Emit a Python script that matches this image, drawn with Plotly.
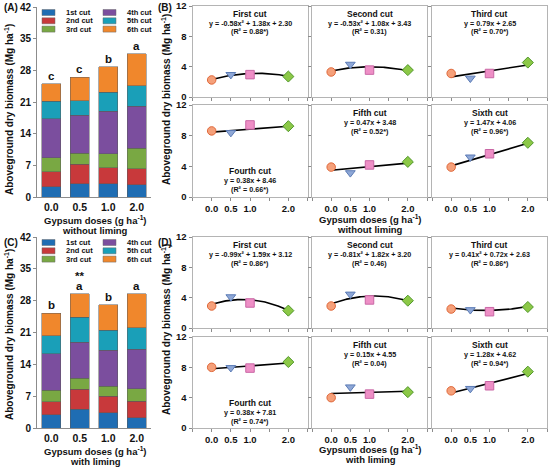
import numpy as np
import plotly.graph_objects as go

W, H = 550, 469
FONT = "Liberation Sans, Arial, sans-serif"

# ---------------- data ----------------
doses = [0.0, 0.5, 1.0, 2.0]
dose_labels = ["0.0", "0.5", "1.0", "2.0"]
cut_names = ["1st cut", "2nd cut", "3rd cut", "4th cut", "5th cut", "6th cut"]
cut_titles = ["First cut", "Second cut", "Third cut", "Fourth cut", "Fifth cut", "Sixth cut"]
cut_colors = ["#1f6db3", "#c8393b", "#79a843", "#7b4e9e", "#1a9fb8", "#f0872c"]

# without liming (Mg ha-1), per cut, at doses 0.0 0.5 1.0 2.0
nl_cut1 = [2.25, 2.95, 2.95, 2.70]
nl_cut2 = [3.30, 4.30, 3.55, 3.55]
nl_cut3 = [3.10, 2.47, 3.10, 4.54]
nl_cut4 = [8.62, 8.40, 9.40, 9.24]
nl_cut5 = [3.90, 3.15, 4.18, 4.58]
nl_cut6 = [3.90, 5.20, 5.64, 7.07]

# with liming
l_cut1 = [2.90, 4.10, 3.30, 2.29]
l_cut2 = [2.90, 4.45, 3.70, 3.60]
l_cut3 = [2.50, 2.40, 2.15, 2.77]
l_cut4 = [8.00, 7.95, 7.90, 8.70]
l_cut5 = [4.00, 5.40, 4.47, 4.73]
l_cut6 = [4.90, 5.20, 5.57, 7.43]

nl_letters = ["c", "c", "b", "a"]
l_letters = ["b", "a", "b", "a"]
l_stars = ["", "**", "", ""]

nl_eqs = ["y = -0.58x² + 1.38x + 2.30", "y = -0.53x² + 1.08x + 3.43", "y = 0.79x + 2.65",
          "y = 0.38x + 8.46", "y = 0.47x + 3.48", "y = 1.47x + 4.06"]
nl_r2 = ["(R² = 0.88*)", "(R² = 0.31)", "(R² = 0.70*)", "(R² = 0.66*)", "(R² = 0.52*)", "(R² = 0.96*)"]
l_eqs = ["y = -0.99x² + 1.59x + 3.12", "y = -0.81x² + 1.82x + 3.20", "y = 0.41x² + 0.72x + 2.63",
         "y = 0.38x + 7.81", "y = 0.15x + 4.55", "y = 1.28x + 4.62"]
l_r2 = ["(R² = 0.86*)", "(R² = 0.46)", "(R² = 0.86*)", "(R² = 0.74*)", "(R² = 0.04)", "(R² = 0.94*)"]
# fitted coefficients [a, b, c] for y = a x^2 + b x + c
nl_coef = [[-0.58, 1.38, 2.30], [-0.53, 1.08, 3.43], [0.0, 0.79, 2.65],
           [0.0, 0.38, 8.46], [0.0, 0.47, 3.48], [0.0, 1.47, 4.06]]
l_coef = [[-0.99, 1.59, 3.12], [-0.81, 1.82, 3.20], [0.41, -0.72, 2.63],
          [0.0, 0.38, 7.81], [0.0, 0.15, 4.55], [0.0, 1.28, 4.62]]

marker_symbols = ["circle", "triangle-down", "square", "diamond"]
marker_fill = ["#f5a07a", "#8ea7d6", "#ee8fc6", "#8cc847"]
marker_edge = ["#e0683a", "#5b7bb5", "#c967a5", "#52982c"]

nl_cuts = [nl_cut1, nl_cut2, nl_cut3, nl_cut4, nl_cut5, nl_cut6]
l_cuts = [l_cut1, l_cut2, l_cut3, l_cut4, l_cut5, l_cut6]


def pxx(x):
    return x / W


def pxy(y):
    return 1 - y / H


fig = go.Figure()
layout = {}
annotations = []
shapes = []

# ---------------- bar panels (A, C) ----------------
bar_x = [37, 151]
bar_panels = [
    dict(n=1, y=[7, 197], cuts=nl_cuts, letters=nl_letters, stars=None),
    dict(n=2, y=[237, 428], cuts=l_cuts, letters=l_letters, stars=l_stars),
]
for p in bar_panels:
    n = p["n"]
    xa = "x" if n == 1 else f"x{n}"
    ya = "y" if n == 1 else f"y{n}"
    for i, vals in enumerate(p["cuts"]):
        fig.add_trace(go.Bar(x=dose_labels, y=vals, name=cut_names[i], xaxis=xa, yaxis=ya,
                             marker=dict(color=cut_colors[i], line=dict(color="#5a5a5a", width=0.5)),
                             showlegend=False))
    totals = np.sum(np.array(p["cuts"]), axis=0)
    for j in range(len(dose_labels)):
        annotations.append(dict(x=j, y=float(totals[j]), xref=xa, yref=ya, text=p["letters"][j],
                                showarrow=False, yanchor="bottom", yshift=0,
                                font=dict(size=11.5, family=FONT, color="#111", weight="bold")))
        if p["stars"] and p["stars"][j]:
            annotations.append(dict(x=j, y=float(totals[j]), xref=xa, yref=ya, text=p["stars"][j],
                                    showarrow=False, yanchor="bottom", yshift=10,
                                    font=dict(size=11.5, family=FONT, color="#111", weight="bold")))
    kx = "xaxis" if n == 1 else f"xaxis{n}"
    ky = "yaxis" if n == 1 else f"yaxis{n}"
    layout[kx] = dict(domain=[pxx(bar_x[0]), pxx(bar_x[1])], anchor=ya, type="category",
                      range=[-0.5, len(dose_labels) - 0.5], automargin=False,
                      showline=True, linecolor="#8c8c8c", linewidth=1, ticks="",
                      tickfont=dict(size=10.5, family=FONT, color="#111", weight="bold"),
                      showgrid=False, zeroline=False)
    layout[ky] = dict(domain=[pxy(p["y"][1]), pxy(p["y"][0])], anchor=xa, range=[0, 42],
                      automargin=False,
                      tickvals=[0, 7, 14, 21, 28, 35, 42], showline=True, linecolor="#8c8c8c",
                      linewidth=1, ticks="outside", ticklen=3, tickcolor="#8c8c8c",
                      tickfont=dict(size=10, family=FONT, color="#111", weight="bold"),
                      showgrid=False, zeroline=False)
    # legend (two columns x three rows)
    top = p["y"][0]
    for i, nm in enumerate(cut_names):
        col, row = divmod(i, 3)
        sx = 42 + col * 61
        sy = top + 5.5 + row * 8.3
        shapes.append(dict(type="rect", xref="paper", yref="paper",
                           x0=pxx(sx), x1=pxx(sx + 13), y0=pxy(sy - 3), y1=pxy(sy + 3),
                           fillcolor=cut_colors[i], line=dict(color="#6a6a6a", width=0.5)))
        annotations.append(dict(x=pxx(sx + 22), y=pxy(sy), xref="paper", yref="paper", text=nm,
                                showarrow=False, xanchor="left", yanchor="middle",
                                font=dict(size=7.5, family=FONT, color="#111", weight="bold")))

# ---------------- regression panels (B, D) ----------------
cols = [[192.5, 307.5], [312, 427], [432, 547]]
groups = [
    dict(rows=[[6, 97], [105, 197]], cuts=nl_cuts, eqs=nl_eqs, r2=nl_r2, coef=nl_coef),
    dict(rows=[[237, 328], [337, 428]], cuts=l_cuts, eqs=l_eqs, r2=l_r2, coef=l_coef),
]
xfit = np.linspace(0, 2, 60)
axn = 3
for g in groups:
    for k in range(6):
        r, c = divmod(k, 3)
        xa, ya = f"x{axn}", f"y{axn}"
        a, b, cc = g["coef"][k]
        fig.add_trace(go.Scatter(x=xfit, y=a * xfit ** 2 + b * xfit + cc, mode="lines",
                                 line=dict(color="black", width=1.6), xaxis=xa, yaxis=ya,
                                 showlegend=False, hoverinfo="skip"))
        fig.add_trace(go.Scatter(x=doses, y=g["cuts"][k], mode="markers", xaxis=xa, yaxis=ya,
                                 marker=dict(symbol=marker_symbols, size=8.5, color=marker_fill,
                                             line=dict(color=marker_edge, width=1)),
                                 showlegend=False))
        y0, y1 = g["rows"][r]
        x0, x1 = cols[c]
        layout[f"xaxis{axn}"] = dict(domain=[pxx(x0), pxx(x1)], anchor=ya, range=[-0.5, 2.5],
                                     automargin=False,
                                     tickvals=doses, ticktext=dose_labels,
                                     showticklabels=(r == 1), ticks="outside", ticklen=3,
                                     tickcolor="#8c8c8c", showline=True, mirror=True,
                                     minor=dict(tickvals=[-0.5, 1.5, 2.5], ticks="outside",
                                                ticklen=3, tickcolor="#8c8c8c", showgrid=False),
                                     linecolor="#b4b4b4", linewidth=1, showgrid=False, zeroline=False,
                                     tickfont=dict(size=9.5, family=FONT, color="#111", weight="bold"))
        layout[f"yaxis{axn}"] = dict(domain=[pxy(y1), pxy(y0)], anchor=xa, range=[0, 12],
                                     automargin=False,
                                     tickvals=[0, 4, 8, 12], showticklabels=(c == 0),
                                     ticks="outside", ticklen=3, tickcolor="#8c8c8c",
                                     showline=True, mirror=True, linecolor="#b4b4b4", linewidth=1,
                                     showgrid=False, zeroline=False,
                                     tickfont=dict(size=9.5, family=FONT, color="#111", weight="bold"))
        cx = (x0 + x1) / 2
        if k == 3:
            offs = [66, 75, 84]
        else:
            offs = [8, 17, 26]
        for txt_, off, fs in zip([cut_titles[k], g["eqs"][k], g["r2"][k]], offs, [8.5, 7.2, 7.2]):
            annotations.append(dict(x=pxx(cx), y=pxy(y0 + off), xref="paper", yref="paper",
                                    text=txt_, showarrow=False, xanchor="center", yanchor="middle",
                                    font=dict(size=fs, family=FONT, color="#111", weight="bold")))
        axn += 1


# ---------------- titles and labels ----------------
def txt(x, y, s, size, angle=0, xanchor="center"):
    annotations.append(dict(x=pxx(x), y=pxy(y), xref="paper", yref="paper", text=s,
                            showarrow=False, textangle=angle, xanchor=xanchor, yanchor="middle",
                            font=dict(size=size, family=FONT, color="#111", weight="bold")))


ytitle = "Aboveground dry biomass (Mg ha<sup>-1</sup>)"
xtitle = "Gypsum doses (g ha<sup>-1</sup>)"
txt(9, 110, ytitle, 10, -90)
txt(9, 335, ytitle, 10, -90)
txt(166, 100, ytitle, 10, -90)
txt(166, 330, ytitle, 10, -90)
txt(95, 220, xtitle, 9.5)
txt(95, 230.5, "without liming", 9.5)
txt(370, 218.5, xtitle, 9.5)
txt(370, 229, "without liming", 9.5)
txt(95, 451, xtitle, 9.5)
txt(95, 461.5, "with liming", 9.5)
txt(370, 448.5, xtitle, 9.5)
txt(370, 459.5, "with liming", 9.5)
txt(2, 8, "(A)", 10, xanchor="left")
txt(156, 8, "(B)", 10, xanchor="left")
txt(2, 243, "(C)", 10, xanchor="left")
txt(156, 243, "(D)", 10, xanchor="left")

layout.update(dict(width=W, height=H, margin=dict(l=0, r=0, t=0, b=0, autoexpand=False),
                   barmode="stack", bargap=0.34, plot_bgcolor="white", paper_bgcolor="white",
                   annotations=annotations, shapes=shapes, showlegend=False,
                   font=dict(family=FONT, color="#111")))
fig.update_layout(**layout)
fig.write_html("out.html", config={"displayModeBar": False},
               post_script="document.body.style.margin='0';document.body.style.overflow='hidden';")
